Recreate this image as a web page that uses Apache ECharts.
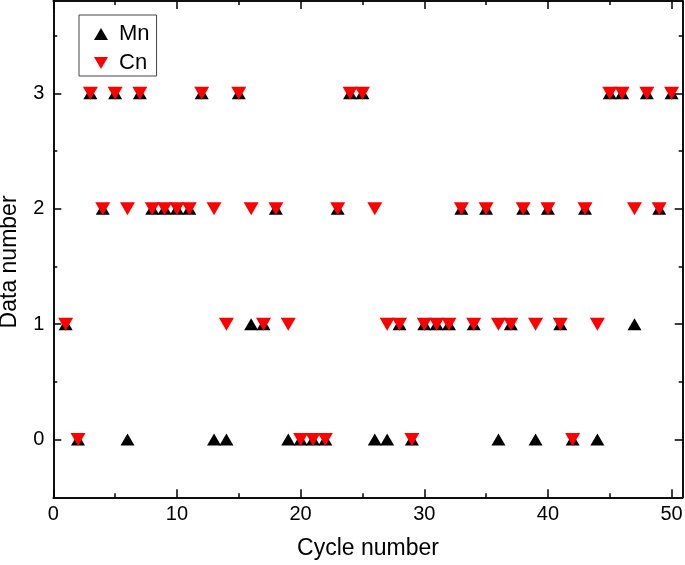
<!DOCTYPE html>
<html>
<head>
<meta charset="utf-8">
<script src="https://cdn.jsdelivr.net/npm/echarts@6/dist/echarts.min.js"></script>
<style>html,body{margin:0;padding:0;background:#fff}#c{width:685px;height:565px}</style>
</head>
<body>
<div id="c"></div>
<script>
var cycles = [];
for (var i = 1; i <= 50; i++) cycles.push(i);
var mnValues = [1,0,3,2,3,0,3,2,2,2, 2,3,0,0,3,1,1,2,0,0, 0,0,2,3,3,0,0,1,0,1, 1,1,2,1,2,0,1,2,0,2, 1,0,2,0,3,3,1,3,2,3];
var cnValues = [1,0,3,2,3,2,3,2,2,2, 2,3,2,1,3,2,1,2,1,0, 0,0,2,3,3,2,1,1,0,1, 1,1,2,1,2,1,1,2,1,2, 1,0,2,1,3,3,2,3,2,3];
var xMajor = [0,10,20,30,40,50];
var xMinor = [5,15,25,35,45];
var yMajor = [0,1,2,3];
var yMinor = [0.5,1.5,2.5,3.5];

var FONT = 'Liberation Sans, Arial, sans-serif';
var DOWN = 'path://M0,0 L14,0 L7,12 Z';

function pairs(vals){ return cycles.map(function(c,i){ return [c, vals[i]]; }); }

function xAx(pos, ticks, len, main){
  return {
    type:'value', position:pos, min:0, max:50.9, gridIndex:0,
    axisLine:{show:true, onZero:false, lineStyle:{color:'#000', width:1.5}},
    axisTick:{show:true, inside:true, length:len, customValues:ticks, lineStyle:{color:'#000', width:1.5}},
    axisLabel: main ? {show:true, customValues:xMajor, color:'#000', fontFamily:FONT, fontSize:20, margin:7} : {show:false},
    splitLine:{show:false},
    name: main ? 'Cycle number' : '', nameLocation:'middle', nameGap:40,
    nameTextStyle:{color:'#000', fontFamily:FONT, fontSize:23}
  };
}
function yAx(pos, ticks, len, main){
  return {
    type:'value', position:pos, min:-0.5, max:3.8, gridIndex:0,
    axisLine:{show:true, onZero:false, lineStyle:{color:'#000', width:1.5}},
    axisTick:{show:true, inside:true, length:len, customValues:ticks, lineStyle:{color:'#000', width:1.5}},
    axisLabel: main ? {show:true, customValues:yMajor, color:'#000', fontFamily:FONT, fontSize:20, margin:9} : {show:false},
    splitLine:{show:false},
    name: main ? 'Data number\u00a0\u00a0\u00a0\u00a0' : '', nameLocation:'middle', nameGap:32,
    nameTextStyle:{color:'#000', fontFamily:FONT, fontSize:23}
  };
}

var chart = echarts.init(document.getElementById('c'), null, {renderer:'canvas'});
chart.setOption({
  backgroundColor:'#fff',
  animation:false,
  grid:{left:53.3, right:2.3, top:1, bottom:67.7, containLabel:false, outerBoundsMode:'none'},
  xAxis:[xAx('bottom', xMajor, 8, true), xAx('bottom', xMinor, 4, false), xAx('top', xMajor, 8, false), xAx('top', xMinor, 4, false)],
  yAxis:[yAx('left', yMajor, 8, true), yAx('left', yMinor, 4, false), yAx('right', yMajor, 8, false), yAx('right', yMinor, 4, false)],
  legend:{
    orient:'vertical', left:79, top:15,
    padding:[8,7,2,15], itemGap:7, itemWidth:14, itemHeight:12,
    borderColor:'#444', borderWidth:1,
    textStyle:{color:'#000', fontFamily:FONT, fontSize:22, padding:[0,0,0,6]},
    data:[{name:'Mn', icon:'triangle'}, {name:'Cn', icon:DOWN}]
  },
  series:[
    {name:'Mn', type:'scatter', xAxisIndex:0, yAxisIndex:0, symbol:'triangle', symbolSize:[14,12],
     itemStyle:{color:'#000', opacity:1}, data:pairs(mnValues)},
    {name:'Cn', type:'scatter', xAxisIndex:0, yAxisIndex:0, symbol:DOWN, symbolSize:[15,13],
     itemStyle:{color:'#ff0000', opacity:1}, data:pairs(cnValues)}
  ]
});
</script>
</body>
</html>
